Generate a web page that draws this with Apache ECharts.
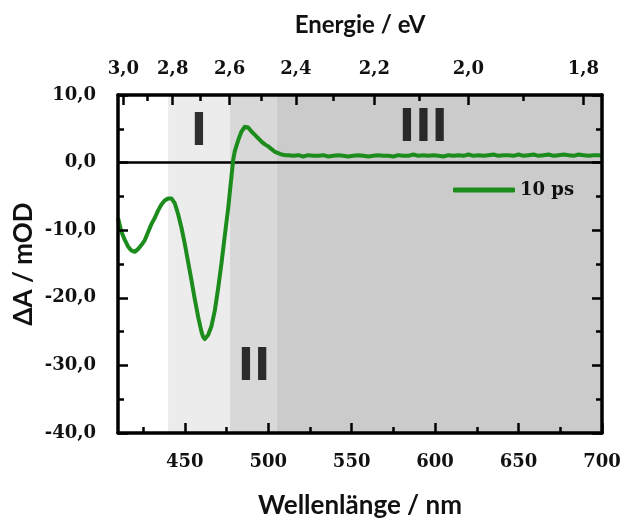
<!DOCTYPE html>
<html>
<head>
<meta charset="utf-8">
<script src="https://cdn.jsdelivr.net/npm/echarts@6/dist/echarts.min.js"></script>
<style>
  html, body { margin: 0; padding: 0; background: #fff; }
  #chart { width: 620px; height: 520px; }
</style>
</head>
<body>
<div id="chart"></div>
<script>
// Transient absorption spectrum at 10 ps delay
const wavelengths = [410, 411, 412, 414, 416, 418, 420, 422, 424, 426, 428, 430, 432, 434, 436, 438, 440, 442, 444, 446,
  448, 450, 452, 454, 456, 458, 460, 461, 462, 463, 464, 466, 468, 470, 472, 474, 476, 478, 479, 480,
  482, 484, 486, 487, 488, 490, 492, 494, 496, 498, 500, 502, 504, 506, 508, 510, 512, 515, 518, 521,
  524, 527, 530, 533, 536, 539, 542, 545, 548, 551, 554, 557, 560, 563, 566, 569, 572, 575, 578, 581,
  584, 587, 590, 593, 596, 599, 602, 605, 608, 611, 614, 617, 620, 623, 626, 629, 632, 635, 638, 641,
  644, 647, 650, 653, 656, 659, 662, 665, 668, 671, 674, 677, 680, 683, 686, 689, 692, 695, 698, 700];
const deltaA10ps = [-8.2, -9.2, -10.2, -11.4, -12.4, -13.0, -13.2, -12.8, -12.2, -11.5, -10.3, -9.1, -8.2, -7.1, -6.2, -5.6, -5.3, -5.3, -6.0, -7.6,
  -9.6, -12.0, -14.7, -17.4, -20.2, -22.8, -25.0, -25.8, -26.1, -26.0, -25.5, -24.2, -21.9, -18.6, -14.9, -10.8, -6.8, -2.0, 0.4, 1.7,
  3.3, 4.6, 5.3, 5.4, 5.2, 4.6, 4.1, 3.6, 3.1, 2.7, 2.4, 2.0, 1.6, 1.4, 1.2, 1.1, 1.1, 1.0, 1.1, 0.9,
  1.1, 1.0, 1.0, 1.1, 0.9, 1.0, 1.1, 1.0, 0.9, 1.0, 1.1, 1.0, 0.9, 1.0, 1.1, 1.0, 1.0, 0.9, 1.1, 1.0,
  1.0, 1.2, 1.0, 1.1, 1.0, 1.1, 1.0, 0.9, 1.1, 1.0, 1.1, 1.0, 1.2, 1.0, 1.1, 1.0, 1.1, 1.2, 1.0, 1.1,
  1.1, 1.0, 1.2, 1.0, 1.1, 1.2, 1.0, 1.1, 1.2, 1.0, 1.1, 1.2, 1.1, 1.0, 1.2, 1.1, 1.0, 1.1, 1.1, 1.0];

const seriesName = '10 ps';

// Axis ticks
const wlMajorTicks = [450, 500, 550, 600, 650, 700];
const wlMinorTicks = [425, 475, 525, 575, 625, 675];
const energyMajorTicks = [3.0, 2.8, 2.6, 2.4, 2.2, 2.0, 1.8];
const energyMinorTicks = [2.9, 2.7, 2.5, 2.3, 2.1, 1.9];

// Axis titles
const titleEnergy = 'Energie / eV';
const titleWavelength = 'Wellenlänge / nm';
const titleDeltaA = 'ΔA / mOD';

// Spectral regions (nm)
const regionNames = ['I', 'II', 'III'];
const regionStarts = [440, 477, 505];
const regionEnds = [477, 505, 700];
const regionLabelX = [458.5, 491.5, 593];
const regionLabelY = [4.3, -30.5, 4.9];

const HC = 1239.84; // eV·nm
const WL_MIN = 410, WL_MAX = 700;

const regionColors = ['#ececec', '#d8d8d8', '#cbcbcb'];
const lineColor = '#1c8c1c';
const serif = 'DejaVu Serif';
const sans = 'Lato';

const chart = echarts.init(document.getElementById('chart'));

const comma = (v, d) => v.toFixed(d).replace('.', ',');
const toNm = e => HC / e;

const tickStyle = () => ({ color: '#000', width: 2.5 });
const frameLine = () => ({ show: true, onZero: false, lineStyle: { color: '#000', width: 3.5 } });
const hiddenLine = () => ({ show: false, onZero: false });
const tickLabel = () => ({ fontFamily: serif, fontWeight: 'bold', fontSize: 18, color: '#111' });

function xAxisDef(position, showLine, tickLen, ticks, labelOpts) {
  return {
    type: 'value', min: WL_MIN, max: WL_MAX, z: 10, position: position,
    splitLine: { show: false },
    axisLine: showLine ? frameLine() : hiddenLine(),
    axisTick: { show: true, inside: true, length: tickLen, lineStyle: tickStyle(), customValues: ticks },
    axisLabel: labelOpts ? Object.assign({ customValues: ticks }, tickLabel(), labelOpts) : { show: false }
  };
}

function yAxisDef(position, withLabels) {
  return {
    type: 'value', min: -40, max: 10, interval: 10, position: position, z: 10,
    splitLine: { show: false },
    axisLine: frameLine(),
    axisTick: { show: true, inside: true, length: 10, lineStyle: tickStyle() },
    minorTick: { show: true, splitNumber: 2, length: 6, lineStyle: tickStyle() },
    axisLabel: withLabels
      ? Object.assign({ margin: 22, formatter: v => comma(v, 1) }, tickLabel())
      : { show: false }
  };
}

const titleStyle = (text, size) => ({
  text: text, fontFamily: sans, fontWeight: 'bold', fontSize: size, fill: '#111',
  align: 'center', verticalAlign: 'middle'
});

const option = {
  animation: false,
  grid: { left: 118, right: 18, top: 95, bottom: 87, containLabel: false,
          outerBoundsMode: 'none', show: false },
  legend: {
    data: [seriesName], left: 448, top: 176, padding: 5,
    icon: 'roundRect', itemWidth: 62, itemHeight: 5,
    textStyle: { fontFamily: serif, fontWeight: 'bold', fontSize: 18, color: '#111' }
  },
  graphic: [
    { type: 'text', x: 360, y: 25, style: titleStyle(titleEnergy, 24) },
    { type: 'text', x: 360, y: 506, style: titleStyle(titleWavelength, 26) },
    { type: 'text', x: 24, y: 264, rotation: Math.PI / 2, style: titleStyle(titleDeltaA, 26) }
  ],
  xAxis: [
    xAxisDef('bottom', true, 10, wlMajorTicks, { margin: 20, formatter: v => String(Math.round(v)) }),
    xAxisDef('bottom', false, 6, wlMinorTicks, null),
    xAxisDef('top', true, 10, energyMajorTicks.map(toNm), { margin: 17, formatter: v => comma(HC / v, 1) }),
    xAxisDef('top', false, 6, energyMinorTicks.map(toNm), null)
  ],
  yAxis: [
    yAxisDef('left', true),
    yAxisDef('right', false)
  ],
  series: [
    {
      // shaded spectral regions and the zero line
      type: 'line', data: [], z: 1, silent: true,
      markArea: {
        silent: true,
        data: regionStarts.map((s, i) => [
          { xAxis: s, yAxis: -40, itemStyle: { color: regionColors[i] } },
          { xAxis: regionEnds[i], yAxis: 10 }
        ])
      },
      markLine: {
        silent: true, symbol: 'none', label: { show: false },
        lineStyle: { color: '#000', width: 2.5, type: 'solid' },
        data: [{ yAxis: 0 }]
      }
    },
    {
      // region labels
      type: 'scatter', z: 4, silent: true, symbolSize: 0,
      itemStyle: { color: 'rgba(0,0,0,0)' },
      data: regionNames.map((n, i) => ({ name: n, value: [regionLabelX[i], regionLabelY[i]] })),
      label: { show: true, position: 'inside', formatter: '{b}',
               fontFamily: 'DejaVu Sans', fontWeight: 'bold', fontSize: 44, color: '#000' }
    },
    {
      name: seriesName, type: 'line', z: 5,
      data: wavelengths.map((w, i) => [w, deltaA10ps[i]]),
      showSymbol: false, symbol: 'none',
      lineStyle: { color: lineColor, width: 4, join: 'round' },
      itemStyle: { color: lineColor }
    }
  ]
};

chart.setOption(option);
</script>
</body>
</html>
